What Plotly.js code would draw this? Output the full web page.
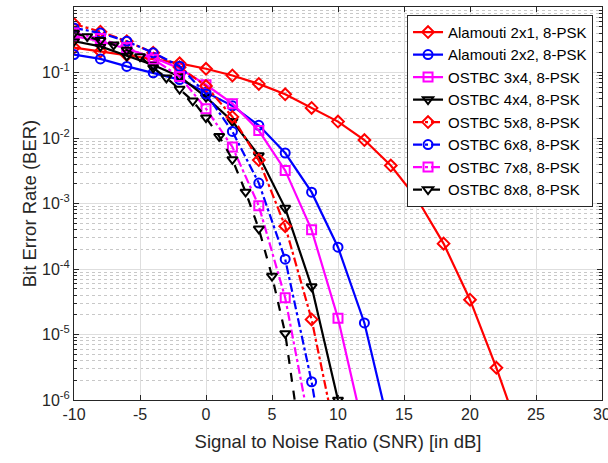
<!DOCTYPE html>
<html>
<head>
<meta charset="utf-8">
<script src="https://cdn.plot.ly/plotly-3.0.1.min.js"></script>
<style>html,body{margin:0;padding:0;background:#fff;}#chart{width:608px;height:463px;}</style>
</head>
<body>
<div id="chart"></div>
<script>
// SNR grids (dB)
const snrStep2 = [-10,-8,-6,-4,-2,0,2,4,6,8,10,12,14,16,18,20,22,24];
const snrStep1 = [-10,-9,-8,-7,-6,-5,-4,-3,-2,-1,0,1,2,3,4,5,6,7];

// Series names
const seriesNames = [
  "Alamouti 2x1, 8-PSK", "Alamouti 2x2, 8-PSK", "OSTBC 3x4, 8-PSK", "OSTBC 4x4, 8-PSK",
  "OSTBC 5x8, 8-PSK", "OSTBC 6x8, 8-PSK", "OSTBC 7x8, 8-PSK", "OSTBC 8x8, 8-PSK"
];

// BER values
const berAlamouti2x1 = [0.24,0.21,0.185,0.16,0.138,0.114,0.09,0.067,0.0464,0.0288,0.0178,0.0093,0.0038,0.00117,2.44e-4,3.4e-5,3.1e-6,2.2e-7];
const berAlamouti2x2 = [0.188,0.161,0.124,0.099,0.078,0.05,0.031,0.0156,0.0059,0.00149,2.15e-4,1.5e-5,3e-7];
const berOstbc3x4 = [0.36,0.30,0.23,0.17,0.115,0.065,0.0334,0.013,0.0032,3.96e-4,1.77e-5,3.1e-7];
const berOstbc4x4 = [0.30,0.25,0.18,0.13,0.087,0.042,0.018,0.0054,8.5e-4,5.4e-5,1.0e-6];
const berOstbc5x8 = [0.55,0.42,0.30,0.20,0.12,0.062,0.021,0.0046,4.5e-4,1.7e-5,1.9e-7];
const berOstbc6x8 = [0.48,0.40,0.30,0.20,0.125,0.047,0.0126,0.00205,1.41e-4,1.9e-6,8e-9];
const berOstbc7x8 = [0.40,0.33,0.24,0.16,0.087,0.028,0.0073,9.2e-4,3.65e-5,2.8e-7];
const berOstbc8x8 = [0.40,0.355,0.31,0.265,0.22,0.175,0.118,0.083,0.056,0.037,0.0204,0.0106,0.0047,0.0015,4.1e-4,7.8e-5,1.04e-5,4e-7];

// Axis ticks
const xTicks = [-10,-5,0,5,10,15,20,25,30];
const yExponents = [0,-1,-2,-3,-4,-5,-6];

const berList = [berAlamouti2x1, berAlamouti2x2, berOstbc3x4, berOstbc4x4, berOstbc5x8, berOstbc6x8, berOstbc7x8, berOstbc8x8];
const xList = [snrStep2, snrStep2, snrStep2, snrStep2, snrStep2, snrStep2, snrStep2, snrStep1];
const colors = ["#ff0000","#0000ff","#ff00ff","#000000","#ff0000","#0000ff","#ff00ff","#000000"];
const symbols = ["diamond-open","circle-open","square-open","triangle-down-open","diamond-open","circle-open","square-open","triangle-down-open"];
const dashes = ["solid","solid","solid","solid","dashdot","dashdot","dashdot","dash"];

const traces = berList.map((ber, i) => ({
  type: "scatter",
  mode: "lines+markers",
  name: seriesNames[i],
  x: xList[i].slice(0, ber.length),
  y: ber,
  line: {color: colors[i], width: 2.2, dash: dashes[i]},
  marker: {symbol: symbols[i], size: 9, color: colors[i], line: {color: colors[i], width: 2}}
}));

const axisCol = "#262626";
const layout = {
  width: 608, height: 463,
  margin: {l: 74, r: 6, t: 7, b: 63},
  paper_bgcolor: "#ffffff", plot_bgcolor: "#ffffff",
  font: {family: "Liberation Sans, Arial, sans-serif", color: axisCol, size: 14},
  showlegend: true,
  legend: {
    x: 0.983, y: 0.98, xanchor: "right", yanchor: "top",
    bgcolor: "#ffffff", bordercolor: axisCol, borderwidth: 1,
    font: {size: 15, color: "#000000"}
  },
  xaxis: {
    range: [-10, 30], tickvals: xTicks, ticktext: xTicks.map(String),
    ticks: "inside", ticklen: 5, tickcolor: axisCol, ticklabeloverflow: "allow",
    showline: true, linecolor: axisCol, linewidth: 1, mirror: "ticks",
    showgrid: true, gridcolor: "#dedede", gridwidth: 1, zeroline: false,
    title: {text: "Signal to Noise Ratio (SNR) [in dB]", font: {size: 18.5}, standoff: 12},
    tickfont: {size: 16}
  },
  yaxis: {
    type: "log", range: [-6, 0],
    tickvals: yExponents.map(e => Math.pow(10, e)),
    ticktext: yExponents.map(e => "10<sup>" + e + "</sup>"),
    ticks: "inside", ticklen: 5, tickcolor: axisCol,
    showline: true, linecolor: axisCol, linewidth: 1, mirror: "ticks",
    showgrid: true, gridcolor: "#dedede", gridwidth: 1, zeroline: false,
    minor: {dtick: "D1", ticks: "inside", ticklen: 3, tickcolor: axisCol, showgrid: true, gridcolor: "#c8c8c8", griddash: "dot", gridwidth: 1},
    title: {text: "Bit Error Rate (BER)", font: {size: 18.5}, standoff: 0},
    tickfont: {size: 16}
  }
};

Plotly.newPlot("chart", traces, layout, {displayModeBar: false, staticPlot: true});
</script>
</body>
</html>
